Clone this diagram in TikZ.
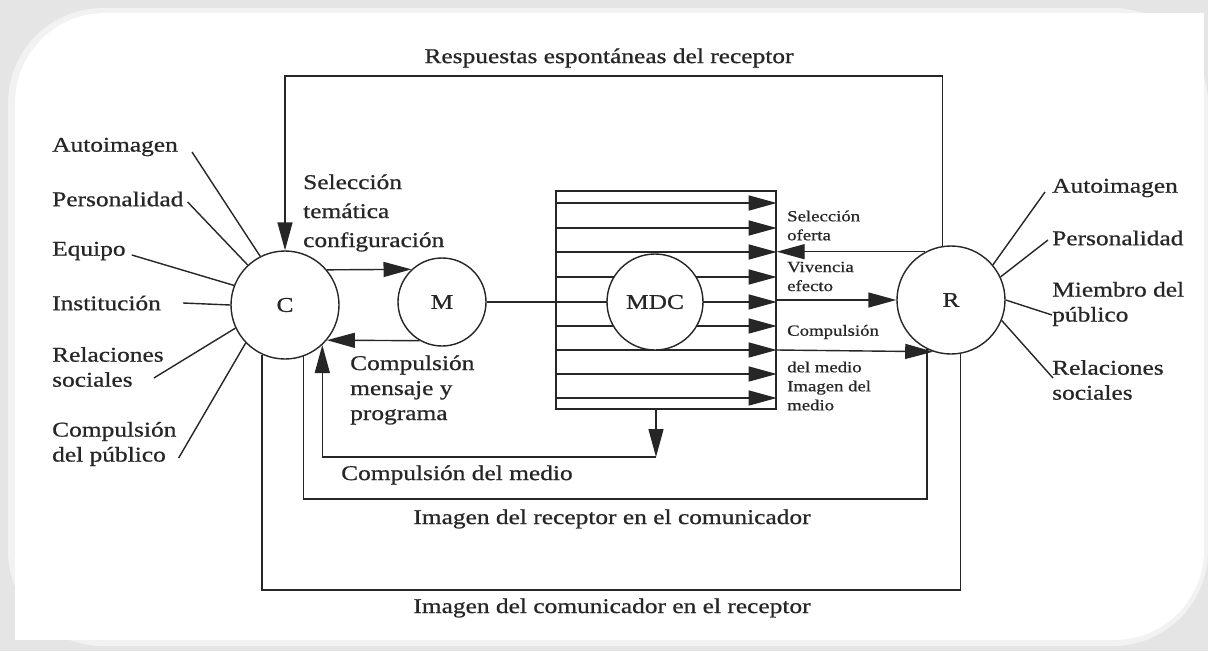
\documentclass[tikz,border=0pt]{standalone}
\usepackage{fontspec}
\setmainfont{Liberation Serif}[FakeStretch=1.21,FakeBold=0.7]
\usetikzlibrary{arrows.meta,calc}
\begin{document}
\begin{tikzpicture}[x=1pt,y=-1pt,
  ln/.style={line width=1.4pt, draw=black!85},
  arr/.style={ln,-{Triangle[length=28pt,width=15pt]}},
  lbl/.style={font=\fontsize{21}{25}\selectfont, inner sep=0pt, text=black!85},
  lblw/.style={lbl, anchor=west, align=left},
  sml/.style={font=\fontsize{15.5}{19}\selectfont, inner sep=0pt, anchor=west, align=left, text=black!85},
  circ/.style={circle, ln, fill=white, inner sep=0pt, text=black!85, font=\fontsize{21}{25}\selectfont}]
\useasboundingbox (0,0) rectangle (1208,651);
% background panel
\fill[gray!20] (0,0) rectangle (1208,651);
\fill[gray!10, rounded corners=95pt] (8,8) rectangle (1208,646);
\fill[white, rounded corners=90pt] (15,13) rectangle (1204,640);
\fill[white] (600,13) rectangle (1204,300);
\fill[white] (15,300) rectangle (600,640);

% main circles
\node[circ, minimum size=108pt] (C) at (285,305) {C};
\node[circ, minimum size=88pt] (M) at (442,302) {M};
\node[circ, minimum size=108pt] (R) at (951,300) {R};

% MDC box with arrows
\node[draw, ln, minimum width=220pt, minimum height=218pt, inner sep=0pt] (box) at (666,300) {};
\foreach \y in {203,228,252,277,302,326,350,374,398}
  \draw[arr] (box.west |- 0,\y) -- (box.east |- 0,\y);
\node[circ, minimum size=96pt] (MDC) at (655,302) {MDC};
\draw[ln] (M.east) -- (M.east -| box.west);

% C <-> M
\draw[arr] (C.40) -- (M.133);
\draw[arr] (M.240) -- (C.-40);

% R <-> box
\draw[arr] (R.118) -- (R.118 -| box.east);
\draw[arr] (box.east |- R.west) -- (R.west);
\draw[arr] (box.east |- 0,350) -- (R.-109);

% top loop
\draw[arr] (R.99) -- ++(0,-170) -| (C.north);
\node[lbl] (t1) at (609,58) {Respuestas espontáneas del receptor};

% compulsion del medio loop
\coordinate (cm) at (656,457);
\draw[arr] (box.south -| cm) -- (cm);
\draw[arr] (cm) -| (C.-47);
\node[lblw] (t2) at (341,475) {Compulsión del medio};

% image loops
\draw[ln] (R.-116) -- ++(0,150) -| (C.-70.5);
\node[lbl] (t3) at (612,519) {Imagen del receptor en el comunicador};
\draw[ln] (R.-80.4) -- ++(0,236) -| (C.-115.2);
\node[lbl] (t4) at (612,608) {Imagen del comunicador en el receptor};

% labels near C and M
\node[lblw, font=\fontsize{21}{29}\selectfont] (sel) at (303,213) {Selección\\temática\\configuración};
\node[lblw] (cmp) at (350,390) {Compulsión\\mensaje y\\programa};

% small labels right of box
\node[sml] (s1) at (787,225.5) {Selección\\oferta};
\node[sml] (s2) at (787,276.5) {Vivencia\\efecto};
\node[sml] (s3) at (787,332) {Compulsión};
\node[sml] (s4) at (787,386) {del medio\\Imagen del\\medio};

% left labels
\node[lblw] (a1) at (52,147) {Autoimagen};
\node[lblw] (a2) at (52,199) {Personalidad};
\node[lblw] (a3) at (52,251) {Equipo};
\node[lblw] (a4) at (52,303) {Institución};
\node[lblw] (a5) at (52,367) {Relaciones\\sociales};
\node[lblw] (a6) at (52,444) {Compulsión\\del público};
\draw[ln] ($(a1.east)+(14,5)$) -- (C.117);
\draw[ln] ($(a2.east)+(4,3)$) -- (C.133);
\draw[ln] ($(a3.east)+(6,4)$) -- (C.159);
\draw[ln] ($(a4.east)+(22,0)$) -- (C.180);
\draw[ln] ($(a5.east)+(-10,11)$) -- (C.205);
\draw[ln] ($(a6.east)+(2,14)$) -- (C.224);

% right labels
\node[lblw] (b1) at (1052,188) {Autoimagen};
\node[lblw] (b2) at (1052,238) {Personalidad};
\node[lblw] (b3) at (1052,304) {Miembro del\\público};
\node[lblw] (b4) at (1052,380) {Relaciones\\sociales};
\draw[ln] ($(b1.west)+(-7,4)$) -- (R.40);
\draw[ln] ($(b2.west)+(-4,2)$) -- (R.25);
\draw[ln] ($(b3.west)+(0,11)$) -- (R.0);
\draw[ln] ($(b4.west)+(1,-2)$) -- (R.-22);
\end{tikzpicture}
\end{document}
